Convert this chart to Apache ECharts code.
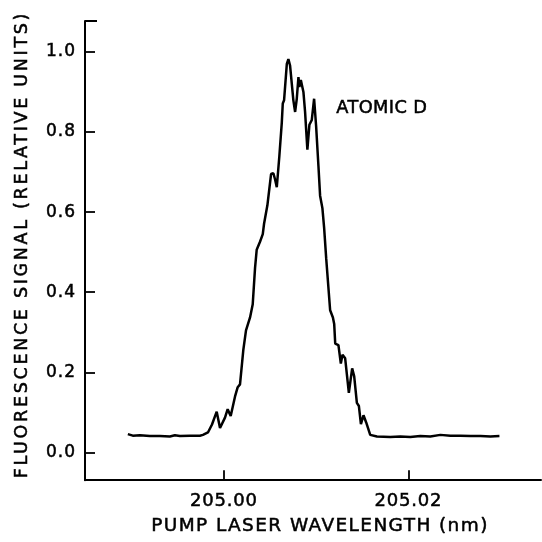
<!DOCTYPE html>
<html>
<head>
<meta charset="utf-8">
<script src="https://cdn.jsdelivr.net/npm/echarts@6/dist/echarts.min.js"></script>
<style>html,body{margin:0;padding:0;background:#fff}#c{width:542px;height:542px}</style>
</head>
<body>
<div id="c"></div>
<script>
// wavelength (nm)
var wavelength = [
204.98957,204.99011,204.99087,204.99196,204.99304,204.99413,204.99467,204.99522,204.99630,204.99739,
204.99772,204.99826,204.99870,204.99921,204.99957,204.99978,205.00011,205.00040,205.00073,205.00120,
205.00149,205.00174,205.00210,205.00239,205.00283,205.00312,205.00337,205.00355,205.00391,205.00421,
205.00435,205.00471,205.00511,205.00536,205.00554,205.00573,205.00601,205.00627,205.00638,205.00652,
205.00682,205.00699,205.00717,205.00753,205.00772,205.00790,205.00808,205.00818,205.00834,205.00848,
205.00862,205.00880,205.00905,205.00927,205.00953,205.00978,205.01000,205.01025,205.01043,205.01068,
205.01087,205.01109,205.01152,205.01182,205.01196,205.01207,205.01242,205.01268,205.01286,205.01315,
205.01355,205.01391,205.01413,205.01442,205.01464,205.01486,205.01514,205.01543,205.01587,205.01660,
205.01804,205.01913,205.02022,205.02130,205.02239,205.02348,205.02457,205.02565,205.02674,205.02783,
205.02891,205.02989
];
// fluorescence signal (relative units)
var signal = [
0.046,0.042,0.043,0.041,0.041,0.040,0.043,0.041,0.042,0.042,
0.044,0.050,0.070,0.102,0.061,0.065,0.087,0.108,0.091,0.140,
0.163,0.170,0.256,0.305,0.337,0.370,0.460,0.506,0.526,0.545,
0.571,0.617,0.695,0.697,0.682,0.662,0.740,0.822,0.871,0.879,
0.970,0.982,0.966,0.879,0.850,0.883,0.937,0.912,0.930,0.929,
0.900,0.850,0.756,0.818,0.830,0.883,0.814,0.715,0.641,0.610,
0.560,0.485,0.355,0.337,0.321,0.272,0.268,0.222,0.244,0.235,
0.149,0.210,0.190,0.124,0.116,0.071,0.093,0.075,0.044,0.040,
0.039,0.040,0.039,0.041,0.040,0.044,0.042,0.042,0.041,0.041,
0.040,0.041
];
var xTicks = [205.00, 205.02];
var yTicks = [0.0, 0.2, 0.4, 0.6, 0.8, 1.0];
var xTitle = 'PUMP LASER WAVELENGTH (nm)';
var yTitle = 'FLUORESCENCE SIGNAL (RELATIVE UNITS)';
var annotation = 'ATOMIC D';

// wide letter spacing like the original typesetting (keyed by font size)
(function () {
  var P = CanvasRenderingContext2D.prototype;
  if (!('letterSpacing' in P)) return;
  var oFill = P.fillText, oStroke = P.strokeText, oMeasure = P.measureText;
  function sp(ctx) {
    var f = ctx.font || '';
    if (f.indexOf('17.5px') >= 0) return '2.7px';
    if (f.indexOf('18.5px') >= 0) return '1.4px';
    if (f.indexOf('17px') >= 0) return '1px';
    if (f.indexOf('18px') >= 0) return '0.8px';
    if (f.indexOf('17.8px') >= 0) return '0.4px';
    return '0px';
  }
  P.fillText = function () { this.letterSpacing = sp(this); return oFill.apply(this, arguments); };
  P.strokeText = function () { this.letterSpacing = sp(this); return oStroke.apply(this, arguments); };
  P.measureText = function () { this.letterSpacing = sp(this); return oMeasure.apply(this, arguments); };
})();

var pts = wavelength.map(function (w, i) { return [w, signal[i]]; });
var font = 'DejaVu Sans';
var bw = 0.5;
var chart = echarts.init(document.getElementById('c'));
chart.setOption({
  animation: false,
  backgroundColor: '#fff',
  grid: { left: 85, right: 1, top: 21, bottom: 56, containLabel: false },
  xAxis: {
    type: 'value', min: 204.98492, max: 205.0344,
    splitLine: { show: false },
    axisLine: { show: true, onZero: false, lineStyle: { color: '#000', width: 2 } },
    axisTick: { show: true, inside: true, length: 10, customValues: xTicks, lineStyle: { color: '#000', width: 1.8 } },
    axisLabel: { customValues: xTicks, margin: 12, color: '#000', fontFamily: font, fontSize: 18,
      textBorderColor: '#000', textBorderWidth: bw,
      formatter: function (v) { return v.toFixed(2); } },
    name: xTitle, nameLocation: 'middle', nameGap: 36,
    nameTextStyle: { color: '#000', fontFamily: font, fontSize: 18.5, padding: [0, 0, 0, 14],
      textBorderColor: '#000', textBorderWidth: bw }
  },
  yAxis: {
    type: 'value', min: -0.069, max: 1.077,
    splitLine: { show: false },
    axisLine: { show: true, onZero: false, lineStyle: { color: '#000', width: 2 } },
    axisTick: { show: true, inside: true, length: 10, customValues: yTicks, lineStyle: { color: '#000', width: 1.8 } },
    axisLabel: { customValues: yTicks, margin: 9, color: '#000', fontFamily: font, fontSize: 17,
      textBorderColor: '#000', textBorderWidth: bw,
      formatter: function (v) { return v.toFixed(1); } },
    name: yTitle, nameLocation: 'middle', nameGap: 52,
    nameTextStyle: { color: '#000', fontFamily: font, fontSize: 17.5, padding: [0, 0, 0, 12],
      textBorderColor: '#000', textBorderWidth: bw }
  },
  series: [{
    type: 'line', data: pts, showSymbol: false, smooth: false,
    lineStyle: { color: '#000', width: 2.5 }
  }],
  graphic: [{
    type: 'text', left: 336, top: 99,
    style: { text: annotation, fill: '#000', stroke: '#000', lineWidth: bw, font: '17.8px "DejaVu Sans"' }
  }, {
    type: 'line', shape: { x1: 85, y1: 21, x2: 97, y2: 21 },
    style: { stroke: '#000', lineWidth: 2 }
  }]
});
</script>
</body>
</html>
